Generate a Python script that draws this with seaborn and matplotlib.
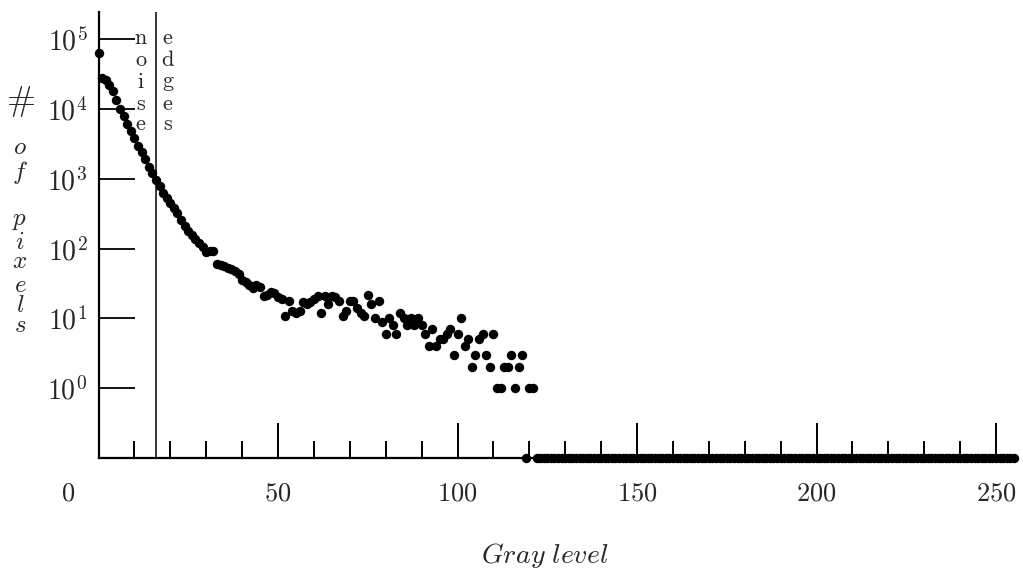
import matplotlib
matplotlib.use("Agg")
import matplotlib.pyplot as plt
import matplotlib.ticker as mticker
import matplotlib.transforms as mtransforms
import pandas as pd
import seaborn as sns

# --- Data: number of pixels per gray level (0..121), all zero above ---
counts_low = [
    64000, 28000, 26000, 22000, 18000, 13500, 10200, 8000, 6200, 4900,   # 0-9
    3800, 3000, 2400, 1900, 1500, 1200, 950, 780, 630, 530,              # 10-19
    450, 380, 320, 260, 215, 180, 155, 138, 122, 105,                    # 20-29
    90, 92, 94, 60, 58, 56, 53, 51, 48, 43,                              # 30-39
    36, 33, 30, 27, 30, 28, 21, 22, 24, 23,                              # 40-49
    20, 19, 11, 18, 13, 12, 13, 17, 16, 17,                              # 50-59
    19, 21, 12, 21, 16, 21, 20, 18, 11, 13,                              # 60-69
    18, 18, 14, 12, 11, 22, 16, 10, 18, 9,                               # 70-79
    6, 10, 8, 6, 12, 10, 8, 10, 8, 10,                                   # 80-89
    8, 6, 4, 7, 4, 5, 5, 6, 7, 3,                                        # 90-99
    6, 10, 4, 5, 2, 3, 5, 6, 3, 2,                                       # 100-109
    6, 1, 1, 2, 2, 3, 1, 2, 3, 0,                                        # 110-119
    1, 1,                                                                # 120-121
]
gray_levels = list(range(256))
counts = counts_low + [0] * (256 - len(counts_low))

zero_floor = 0.1          # zero counts are drawn on the baseline
noise_edge_cut = 16       # threshold between noise and edges
x_major = [0, 50, 100, 150, 200, 250]
y_decades = [0, 1, 2, 3, 4, 5]
ylabel_letters = ["\\#", "o", "f", "p", "i", "x", "e", "l", "s"]
noise_letters = ["n", "o", "i", "s", "e"]
edges_letters = ["e", "d", "g", "e", "s"]

df = pd.DataFrame({"gray": gray_levels, "count": counts})
df["plot_y"] = df["count"].where(df["count"] > 0, zero_floor)

# --- Style ---
sns.set_style("white")
plt.rcParams["mathtext.fontset"] = "cm"
plt.rcParams["font.family"] = ["DejaVu Serif"]

W, H = 1023, 582
fig = plt.figure(figsize=(W / 100, H / 100), dpi=100)
ax = fig.add_axes([98.5 / W, 1 - 458 / H, (1014 - 98.5) / W, (458 - 12) / H])

sns.scatterplot(data=df, x="gray", y="plot_y", color="black", s=46,
                linewidth=0, legend=False, ax=ax, clip_on=False, zorder=5)
ax.set_yscale("log")
ax.set_xlim(0, 255)
ax.set_ylim(zero_floor, 10 ** 5.393)
ax.axvline(noise_edge_cut, color="black", lw=1.1)

for side in ["top", "right"]:
    ax.spines[side].set_visible(False)
for side in ["left", "bottom"]:
    ax.spines[side].set_linewidth(1.6)
    ax.spines[side].set_color("black")

# x ticks: long every 50, short every 10
ax.set_xticks(x_major)
ax.set_xticklabels([f"${v}$" for v in x_major], fontsize=19)
ax.xaxis.set_minor_locator(mticker.MultipleLocator(10))
ax.tick_params(axis="x", which="major", bottom=True, direction="in",
               length=25, width=1.4, color="black", pad=16)
ax.tick_params(axis="x", which="minor", bottom=True, direction="in",
               length=12, width=1.4, color="black")

# y ticks at the decades
ax.set_yticks([10.0 ** k for k in y_decades])
ax.set_yticklabels([f"$10^{{{k}}}$" for k in y_decades], fontsize=20)
ax.yaxis.set_minor_locator(mticker.NullLocator())
ax.tick_params(axis="y", which="major", left=True, direction="in",
               length=26, width=1.3, color="black", pad=8)
ax.set_xlabel("")
ax.set_ylabel("")

# the "0" label sits left of the axis
lab0 = ax.xaxis.get_major_ticks()[0].label1
lab0.set_transform(lab0.get_transform()
                   + mtransforms.ScaledTranslation(-0.30, 0, fig.dpi_scale_trans))

# --- Texts ---
def px(x, y):
    return x / W, 1 - y / H

# stacked letters of the y label, "# of pixels"
ylab_rows = [101, 147, 172, 220, 242, 262, 285, 305, 326]
for ch, row in zip(ylabel_letters, ylab_rows):
    size = 25 if ch == "\\#" else 18
    fig.text(*px(20, row), f"${ch}$", fontsize=size, ha="center", va="center")

word_rows = [38, 60, 82, 104, 124]
for ch, row in zip(noise_letters, word_rows):
    fig.text(*px(141, row), f"$\\mathrm{{{ch}}}$", fontsize=16, ha="center", va="center")
for ch, row in zip(edges_letters, word_rows):
    fig.text(*px(168, row), f"$\\mathrm{{{ch}}}$", fontsize=16, ha="center", va="center")

fig.text(*px(545, 555), r"$Gray\ level$", fontsize=20, ha="center", va="center")

fig.savefig("out.png", dpi=100)
